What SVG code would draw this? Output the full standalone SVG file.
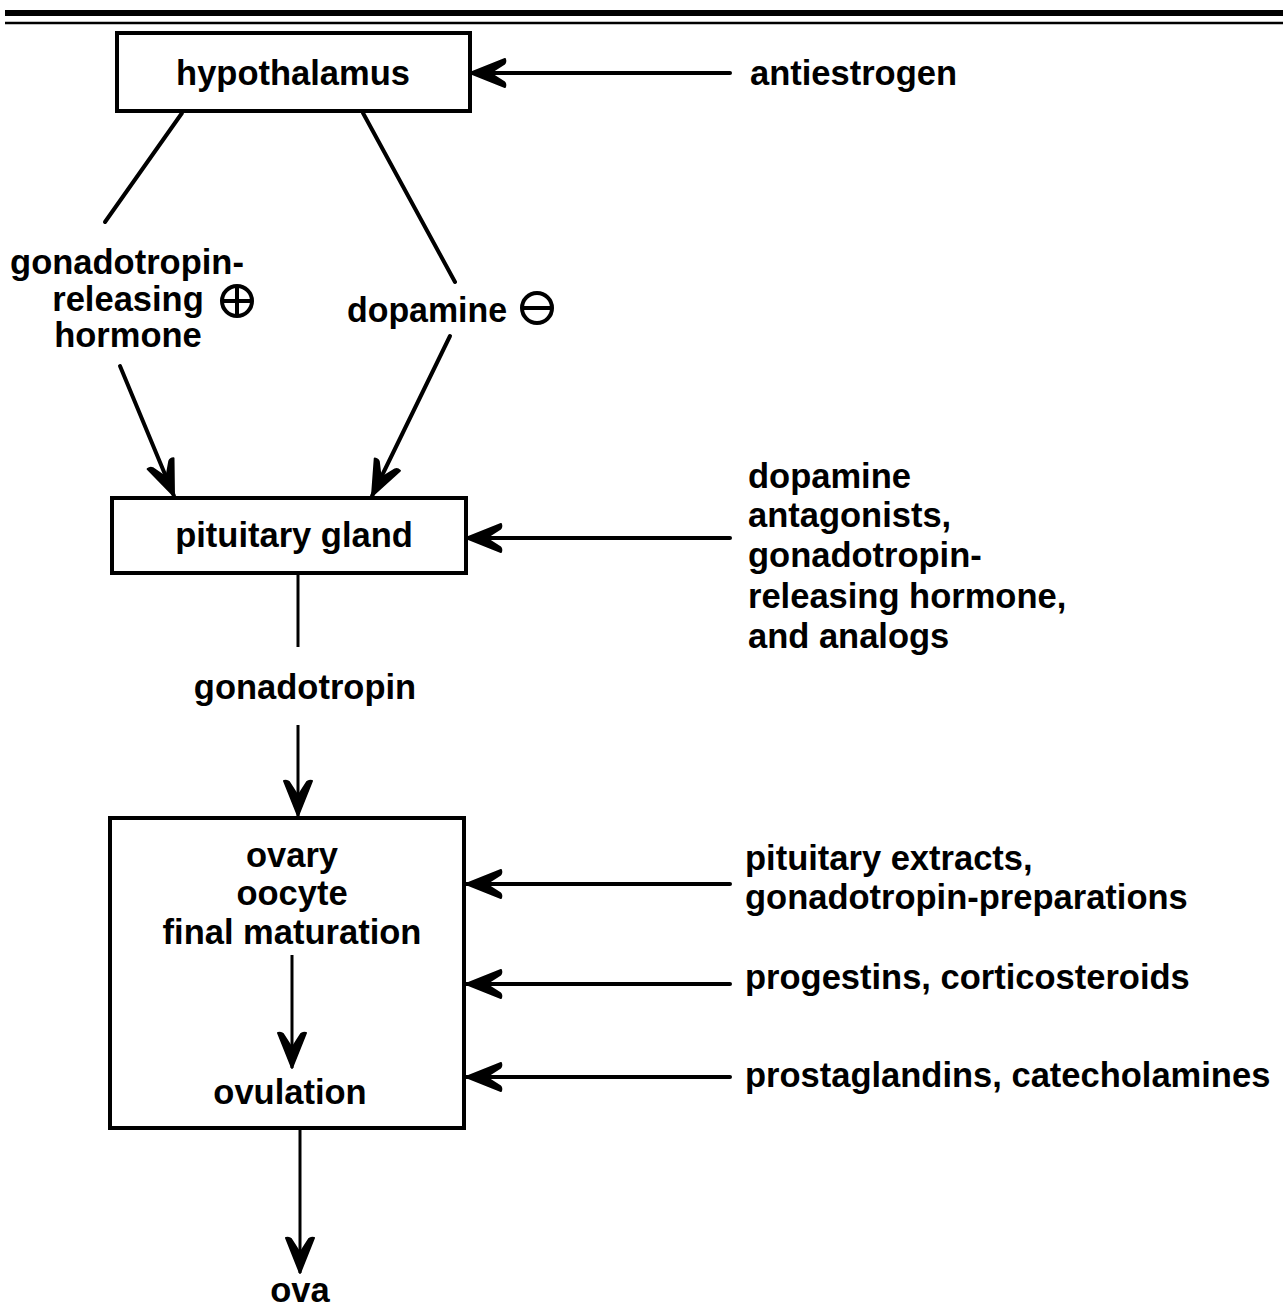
<svg xmlns="http://www.w3.org/2000/svg" width="1283" height="1308" viewBox="0 0 1283 1308">
<defs>
<style>
text{font-family:"Liberation Sans",Arial,sans-serif;font-weight:bold;font-size:34.5px;fill:#000}
.c{text-anchor:middle}
.box{fill:#fff;stroke:#000;stroke-width:4}
.ln{stroke:#000;stroke-width:4;fill:none;stroke-linecap:round}
.thin{stroke:#000;stroke-width:3;fill:none}
.sym{fill:none;stroke:#000;stroke-width:4}
</style>
<marker id="ah" markerUnits="userSpaceOnUse" markerWidth="40" markerHeight="34" viewBox="-2 -17 40 34" refX="35" refY="0" orient="auto" overflow="visible">
<path d="M35,0 L0,-14 Q-1,-11 1,-9 L15,0 L1,9 Q-1,11 0,14 Z" fill="#000" stroke="#000" stroke-width="2" stroke-linejoin="round"/>
</marker>
</defs>
<rect width="1283" height="1308" fill="#fff"/>
<g id="rules">
<line x1="5" y1="13" x2="1283" y2="13" stroke="#000" stroke-width="6"/>
<line x1="5" y1="23" x2="1283" y2="23" stroke="#000" stroke-width="2.5"/>
</g>
<g id="hypothalamus">
<rect class="box" x="117" y="33" width="353" height="78"/>
<text class="c" x="293" y="85">hypothalamus</text>
</g>
<g id="antiestrogen">
<text x="750" y="85">antiestrogen</text>
</g>
<g id="gnrh">
<text class="c" x="127" y="274">gonadotropin-</text>
<text class="c" x="128" y="311">releasing</text>
<text class="c" x="128" y="347">hormone</text>
<circle class="sym" cx="237" cy="301" r="15"/>
<line class="sym" x1="222" y1="301" x2="252" y2="301"/>
<line class="sym" x1="237" y1="286" x2="237" y2="316"/>
</g>
<g id="dopamine">
<text x="347" y="322" textLength="160" lengthAdjust="spacingAndGlyphs">dopamine</text>
<circle class="sym" cx="537" cy="308" r="15"/>
<line class="sym" x1="522" y1="308" x2="552" y2="308"/>
</g>
<g id="pituitary">
<rect class="box" x="112" y="498" width="354" height="75"/>
<text class="c" x="294" y="547">pituitary gland</text>
</g>
<g id="pituitary-agents">
<text x="748" y="488">dopamine</text>
<text x="748" y="527">antagonists,</text>
<text x="748" y="567">gonadotropin-</text>
<text x="748" y="608">releasing hormone,</text>
<text x="748" y="648">and analogs</text>
</g>
<g id="gonadotropin">
<text class="c" x="305" y="699">gonadotropin</text>
</g>
<g id="ovary">
<rect class="box" x="110" y="818" width="354" height="310"/>
<text class="c" x="292" y="867">ovary</text>
<text class="c" x="292" y="905">oocyte</text>
<text class="c" x="292" y="944">final maturation</text>
<text class="c" x="290" y="1104">ovulation</text>
</g>
<g id="ovary-agents">
<text x="745" y="870">pituitary extracts,</text>
<text x="745" y="909">gonadotropin-preparations</text>
<text x="745" y="989">progestins, corticosteroids</text>
<text x="745" y="1087">prostaglandins, catecholamines</text>
</g>
<g id="ova">
<text class="c" x="300" y="1302">ova</text>
</g>
<g id="connectors">
<line class="ln" x1="730" y1="73" x2="470" y2="73" marker-end="url(#ah)"/>
<line class="ln" x1="182" y1="113" x2="105" y2="222"/>
<line class="ln" x1="363" y1="113" x2="455" y2="282"/>
<line class="ln" x1="120" y1="366" x2="174" y2="496" marker-end="url(#ah)"/>
<line class="ln" x1="450" y1="336" x2="372" y2="496" marker-end="url(#ah)"/>
<line class="ln" x1="730" y1="538" x2="466" y2="538" marker-end="url(#ah)"/>
<line class="thin" x1="298" y1="574" x2="298" y2="647"/>
<line class="thin" x1="298" y1="725" x2="298" y2="816" marker-end="url(#ah)"/>
<line class="thin" x1="292" y1="955" x2="292" y2="1068" marker-end="url(#ah)"/>
<line class="ln" x1="730" y1="884" x2="466" y2="884" marker-end="url(#ah)"/>
<line class="ln" x1="730" y1="984" x2="466" y2="984" marker-end="url(#ah)"/>
<line class="ln" x1="730" y1="1077" x2="466" y2="1077" marker-end="url(#ah)"/>
<line class="thin" x1="300" y1="1130" x2="300" y2="1273" marker-end="url(#ah)"/>
</g>
</svg>
